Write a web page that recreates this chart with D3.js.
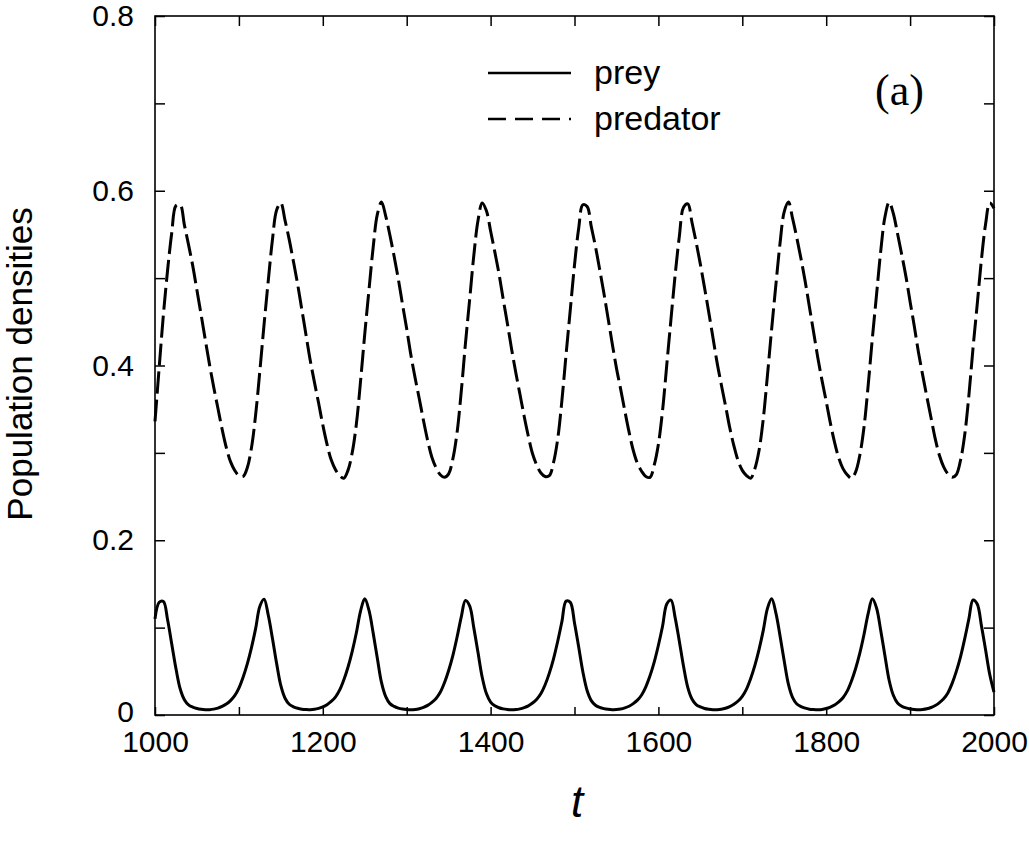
<!DOCTYPE html>
<html>
<head>
<meta charset="utf-8">
<script src="https://cdn.jsdelivr.net/npm/d3@7"></script>
<style>
  body { margin: 0; background: #fff; }
  svg { display: block; }
</style>
</head>
<body>
<div id="general"></div>
<script>
const w = 1029, h = 852;
const m = {l: 155, r: 1029 - 994, t: 16, b: 852 - 715};
const sans = "'Liberation Sans', Arial, Helvetica, sans-serif";
const serif = "'Liberation Serif', 'Times New Roman', serif";

// sampled every 5 time units, t = 1000 .. 2000
const tStart = 1000, tEnd = 2000, tStep = 5;

const prey = [
  0.110, 0.129, 0.130, 0.109, 0.081, 0.053,
  0.0300, 0.0175, 0.0116, 0.0090, 0.0074, 0.0065, 0.0061, 0.0061, 0.0067, 0.0079, 0.0098, 0.0125,
  0.0165, 0.0221, 0.0308, 0.0432, 0.0585, 0.0772, 0.0991, 0.1245, 0.1324, 0.1143, 0.0876, 0.0588,
  0.0335, 0.0192, 0.0123, 0.0094, 0.0077, 0.0067, 0.0062, 0.0061, 0.0065, 0.0076, 0.0093, 0.0118,
  0.0155, 0.0205, 0.0284, 0.0401, 0.0547, 0.0726, 0.0941, 0.1190, 0.1330, 0.1200, 0.0940, 0.0650,
  0.0370, 0.0210, 0.0130, 0.0098, 0.0079, 0.0068, 0.0062, 0.0060, 0.0063, 0.0072, 0.0088, 0.0110,
  0.0145, 0.0190, 0.0260, 0.0370, 0.0510, 0.0680, 0.0890, 0.1120, 0.1310, 0.1250, 0.0997, 0.0714, 0.0432,
  0.0245, 0.0148, 0.0105, 0.0083, 0.0070, 0.0063, 0.0060, 0.0062, 0.0070, 0.0084, 0.0105, 0.0137,
  0.0180, 0.0245, 0.0346, 0.0479, 0.0643, 0.0844, 0.1069, 0.1303, 0.1289, 0.1054, 0.0778, 0.0493,
  0.0280, 0.0165, 0.0112, 0.0087, 0.0073, 0.0065, 0.0061, 0.0062, 0.0068, 0.0081, 0.0100, 0.0130,
  0.0170, 0.0229, 0.0322, 0.0448, 0.0605, 0.0798, 0.1019, 0.1270, 0.1315, 0.1112, 0.0841, 0.0555,
  0.0316, 0.0183, 0.0119, 0.0092, 0.0075, 0.0066, 0.0061, 0.0061, 0.0066, 0.0077, 0.0095, 0.0122,
  0.0160, 0.0214, 0.0297, 0.0418, 0.0568, 0.0751, 0.0968, 0.1220, 0.1330, 0.1169, 0.0905, 0.0616,
  0.0351, 0.0200, 0.0126, 0.0096, 0.0078, 0.0067, 0.0062, 0.0060, 0.0064, 0.0074, 0.0091, 0.0114,
  0.0150, 0.0198, 0.0273, 0.0387, 0.0530, 0.0705, 0.0918, 0.1160, 0.1330, 0.1225, 0.0966, 0.0679, 0.0398,
  0.0226, 0.0138, 0.0101, 0.0081, 0.0069, 0.0063, 0.0060, 0.0063, 0.0071, 0.0086, 0.0108, 0.0142,
  0.0186, 0.0253, 0.0359, 0.0496, 0.0663, 0.0869, 0.1097, 0.1316, 0.1270, 0.1023, 0.0743, 0.0460,
  0.0261
];

const predator = [
  0.336, 0.398, 0.458, 0.509, 0.552, 0.583,
  0.584, 0.561, 0.538, 0.514, 0.486, 0.458, 0.429, 0.401, 0.375, 0.351, 0.327, 0.306,
  0.290, 0.280, 0.274, 0.273, 0.283, 0.306, 0.344, 0.394, 0.447, 0.497, 0.544, 0.578,
  0.586, 0.566, 0.544, 0.519, 0.493, 0.464, 0.435, 0.406, 0.381, 0.357, 0.332, 0.310,
  0.292, 0.281, 0.274, 0.271, 0.280, 0.300, 0.333, 0.382, 0.436, 0.486, 0.535, 0.573,
  0.587, 0.571, 0.549, 0.525, 0.499, 0.470, 0.442, 0.412, 0.386, 0.362, 0.337, 0.314,
  0.295, 0.283, 0.275, 0.272, 0.276, 0.293, 0.323, 0.370, 0.425, 0.475, 0.526, 0.566, 0.586,
  0.577, 0.554, 0.530, 0.505, 0.476, 0.448, 0.419, 0.392, 0.367, 0.342, 0.319, 0.299,
  0.286, 0.277, 0.273, 0.274, 0.289, 0.316, 0.360, 0.413, 0.464, 0.515, 0.557, 0.584,
  0.582, 0.559, 0.536, 0.510, 0.483, 0.454, 0.425, 0.397, 0.373, 0.348, 0.324, 0.303,
  0.288, 0.279, 0.273, 0.272, 0.286, 0.310, 0.349, 0.401, 0.453, 0.504, 0.548, 0.581,
  0.585, 0.564, 0.541, 0.516, 0.489, 0.461, 0.432, 0.403, 0.378, 0.354, 0.329, 0.308,
  0.291, 0.280, 0.274, 0.271, 0.282, 0.303, 0.339, 0.389, 0.442, 0.492, 0.540, 0.576,
  0.587, 0.568, 0.546, 0.522, 0.496, 0.467, 0.438, 0.409, 0.383, 0.359, 0.334, 0.312,
  0.294, 0.282, 0.275, 0.271, 0.278, 0.297, 0.329, 0.377, 0.431, 0.481, 0.531, 0.570, 0.587,
  0.574, 0.551, 0.527, 0.502, 0.473, 0.445, 0.415, 0.389, 0.364, 0.340, 0.316, 0.297,
  0.284, 0.276, 0.272, 0.275, 0.291, 0.320, 0.365, 0.420, 0.470, 0.521, 0.562, 0.586,
  0.580
];

const xTicks = [1000, 1100, 1200, 1300, 1400, 1500, 1600, 1700, 1800, 1900, 2000];
const xTickLabels = ["1000", "", "1200", "", "1400", "", "1600", "", "1800", "", "2000"];
const yTicks = [0, 0.1, 0.2, 0.3, 0.4, 0.5, 0.6, 0.7, 0.8];
const yTickLabels = ["0", "", "0.2", "", "0.4", "", "0.6", "", "0.8"];
const seriesNames = ["prey", "predator"];

const t = d3.range(tStart, tEnd + tStep / 2, tStep);

const x = d3.scaleLinear().domain([1000, 2000]).range([m.l, w - m.r]);
const y = d3.scaleLinear().domain([0, 0.8]).range([h - m.b, m.t]);

const svg = d3.select("#general").append("svg")
  .attr("width", w).attr("height", h)
  .attr("viewBox", `0 0 ${w} ${h}`);

svg.append("rect").attr("width", w).attr("height", h).attr("fill", "#fff");

const tickFont = 30;

// bottom axis
svg.append("g")
  .attr("transform", `translate(0,${y(0)})`)
  .call(d3.axisBottom(x).tickValues(xTicks).tickSizeInner(-8).tickSizeOuter(0).tickPadding(16)
    .tickFormat((d, i) => xTickLabels[i]))
  .call(g => g.select(".domain").remove())
  .call(g => g.selectAll("text").attr("fill", "#000")
    .style("font-size", tickFont + "px").style("font-family", sans));

// top axis
svg.append("g")
  .attr("transform", `translate(0,${y(0.8)})`)
  .call(d3.axisTop(x).tickValues(xTicks).tickSizeInner(-10).tickSizeOuter(0).tickFormat(""))
  .call(g => g.select(".domain").remove());

// left axis
svg.append("g")
  .attr("transform", `translate(${x(1000)},0)`)
  .call(d3.axisLeft(y).tickValues(yTicks).tickSizeInner(-10).tickSizeOuter(0).tickPadding(21)
    .tickFormat((d, i) => yTickLabels[i]))
  .call(g => g.select(".domain").remove())
  .call(g => g.selectAll("text").attr("fill", "#000")
    .style("font-size", tickFont + "px").style("font-family", sans))
  .call(g => g.selectAll(".tick").filter(d => d === 0).select("text").attr("dy", "0.2em"));

// right axis
svg.append("g")
  .attr("transform", `translate(${x(2000)},0)`)
  .call(d3.axisRight(y).tickValues(yTicks).tickSizeInner(-10).tickSizeOuter(0).tickFormat(""))
  .call(g => g.select(".domain").remove());

svg.selectAll(".tick line").attr("stroke", "#000").attr("stroke-width", 1.5);

// frame
svg.append("rect")
  .attr("x", x(1000)).attr("y", y(0.8))
  .attr("width", x(2000) - x(1000)).attr("height", y(0) - y(0.8))
  .attr("fill", "none").attr("stroke", "#000").attr("stroke-width", 1.6);

const line = d3.line()
  .x((d, i) => x(t[i]))
  .y(d => y(d))
  .curve(d3.curveCatmullRom);

const plot = svg.append("g");

plot.append("path")
  .datum(prey)
  .attr("d", line)
  .attr("fill", "none").attr("stroke", "#000").attr("stroke-width", 3)
  .attr("stroke-linejoin", "round");

plot.append("path")
  .datum(predator)
  .attr("d", line)
  .attr("fill", "none").attr("stroke", "#000").attr("stroke-width", 3)
  .attr("stroke-dasharray", "22,6");

// legend
const legend = svg.append("g");
const dashes = [null, "18,9"];
legend.selectAll("line")
  .data(seriesNames)
  .join("line")
    .attr("x1", 488).attr("x2", 571)
    .attr("y1", (d, i) => 73 + i * 46).attr("y2", (d, i) => 73 + i * 46)
    .attr("stroke", "#000").attr("stroke-width", 2.4)
    .attr("stroke-dasharray", (d, i) => dashes[i]);
legend.selectAll("text")
  .data(seriesNames)
  .join("text")
    .attr("x", 594)
    .attr("y", (d, i) => 84 + i * 46)
    .style("font-family", sans)
    .style("font-size", "34px")
    .text(d => d);

svg.append("text")
  .attr("x", 875).attr("y", 105)
  .style("font-family", serif)
  .style("font-size", "44px")
  .text("(a)");

// axis titles
svg.append("text")
  .attr("transform", `translate(32,364) rotate(-90)`)
  .attr("text-anchor", "middle")
  .style("font-family", sans)
  .style("font-size", "35px")
  .text("Population densities");

svg.append("text")
  .attr("x", 577).attr("y", 817)
  .attr("text-anchor", "middle")
  .style("font-family", sans)
  .style("font-size", "44px")
  .style("font-style", "italic")
  .text("t");
</script>
</body>
</html>
